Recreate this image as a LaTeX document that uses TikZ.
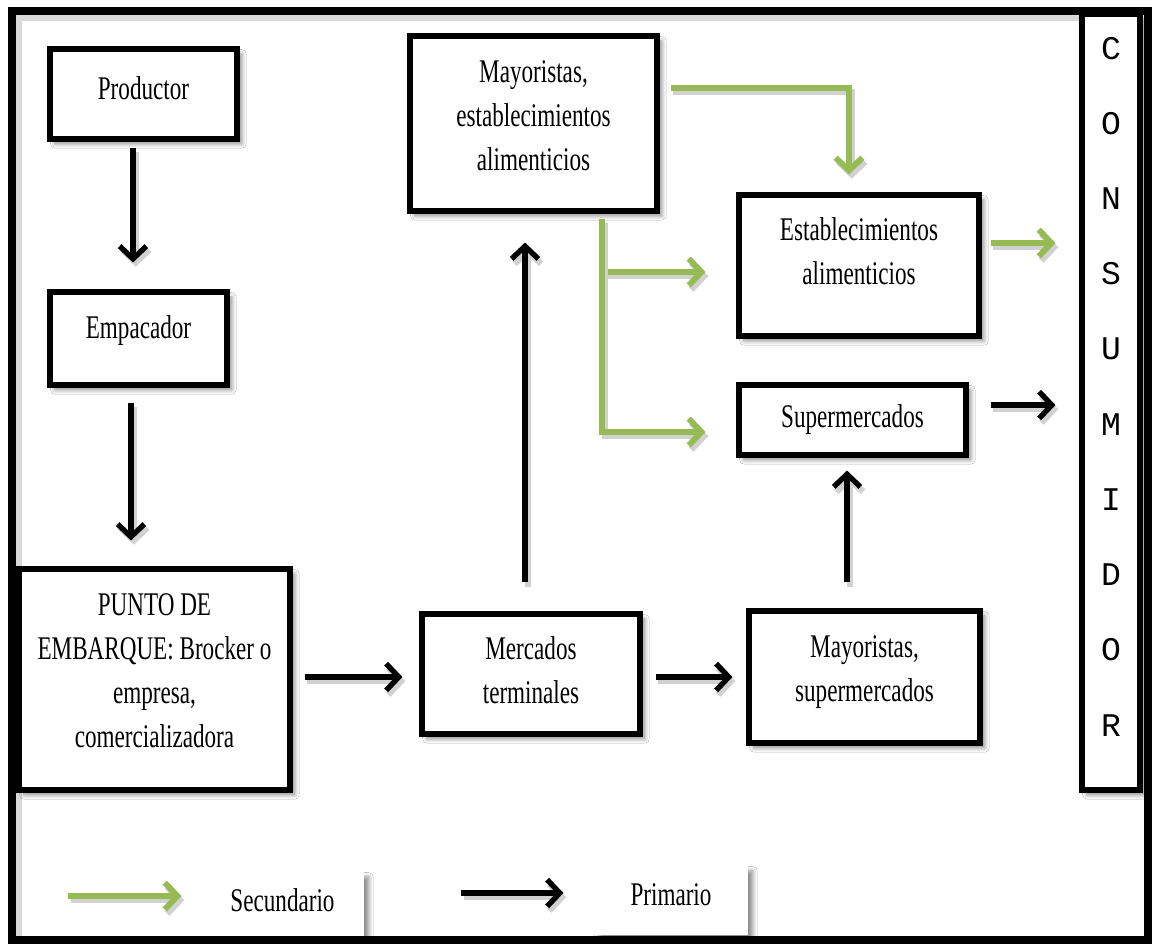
\documentclass[tikz,border=0pt]{standalone}
\usepackage{fontspec}
\setmainfont{Liberation Serif}[FakeStretch=0.7]
\newfontfamily\consfont{Liberation Mono}
\usetikzlibrary{arrows.meta,calc,shadows.blur}
\definecolor{secgreen}{RGB}{150,186,84}
\newdimen\px \px=0.025cm
\newcommand\bx[4]{\begin{minipage}[c][#2\px][c]{#1\px}\centering #4\par\vspace*{#3\px}\end{minipage}}
\tikzset{
  box/.style={draw=black, line width=3.6pt, fill=white, inner sep=0pt,
    font=\fontsize{23.5}{31.3}\selectfont,
    blur shadow={shadow xshift=3.5pt, shadow yshift=-3.5pt, shadow blur steps=8, shadow blur radius=3pt, shadow opacity=45}},
  legbox/.style={box, draw=none},
  parr/.style={line width=3.8pt, draw=black, -{Straight Barb[length=9pt,width=19pt]},
    preaction={draw=black!18, line width=4.5pt, transform canvas={shift={(2pt,-3pt)}}}},
  sarr/.style={parr, draw=secgreen, line width=4.2pt},
}
\begin{document}
\begin{tikzpicture}[x=0.025cm, y=-0.025cm]
\fill[white] (0,0) rectangle (1152,943);
\useasboundingbox (0,0) rectangle (1152,943);
% inner shadow of frame
\draw[black!15, line width=4pt] (19,936) -- (19,18) -- (1141,18);
% boxes
\node[box] (prod) at (143.5,94) {\bx{187}{90}{12}{Productor}};
\node[box] (emp) at (138.5,338.5) {\bx{177}{93}{15}{Empacador}};
\node[box] (punto) at (154.5,679.5) {\bx{271}{221}{17}{PUNTO DE\\EMBARQUE: Brocker o\\empresa,\\comercializadora}};
\node[box] (merc) at (531,674) {\bx{218}{120}{8}{Mercados\\terminales}};
\node[box] (maysup) at (864.5,677) {\bx{231}{132}{9.5}{Mayoristas,\\supermercados}};
\node[box] (mea) at (533.5,123.5) {\bx{247}{175}{15}{Mayoristas,\\establecimientos\\alimenticios}};
\node[box] (est) at (859,265.5) {\bx{240}{141}{29}{Establecimientos\\alimenticios}};
\node[box] (sup) at (852.5,420) {\bx{227}{70}{0}{Supermercados}};
\node[box, font=\consfont\fontsize{23.5}{53.5}\selectfont] (cons) at (1111,402) {\bx{58}{776}{31}{C\\O\\N\\S\\U\\M\\I\\D\\O\\R}};
% legend
\node[legbox] (sec) at (282.5,907) {\bx{163}{70}{14}{Secundario}};
\node[legbox] (prim) at (671,900.5) {\bx{154}{69}{12}{Primario}};
% primary connectors
\draw[parr] ($(prod.south)+(-10.5,6)$) -- ($(emp.north)+(-5.5,-27)$);
\draw[parr] ($(emp.south)+(-7.5,15)$) -- ($(punto.north)+(-23.5,-26)$);
\draw[parr] ($(punto.east)+(12,-2.5)$) -- ($(merc.west)+(-17,3)$);
\draw[parr] ($(merc.east)+(13,3)$) -- ($(maysup.west)+(-14,0)$);
\draw[parr] ($(merc.north)+(-6,-29)$) -- ($(mea.south)+(-8.5,29)$);
\draw[parr] ($(maysup.north)+(-17.5,-26)$) -- ($(sup.south)+(-5.5,13)$);
\draw[parr] ($(sup.east)+(22,-15)$) -- ($(cons.west)+(-24,3)$);
% secondary connectors
\draw[sarr] ($(est.east)+(9,-22.5)$) -- ($(cons.west)+(-24,-159)$);
\draw[sarr] ($(mea.east)+(11,-35.5)$) -| ($(est.north)+(-10,-18)$);
\draw[sarr] ($(mea.south)+(68.5,5)$) |- ($(est.west)+(-31,6.5)$);
\draw[sarr] ($(mea.south)+(68.5,5)$) |- ($(sup.west)+(-31,12)$);
% legend arrows
\draw[sarr] ($(sec.west)+(-130,-11)$) -- ($(sec.west)+(-17,-11)$);
\draw[parr] ($(prim.west)+(-130,-7.5)$) -- ($(prim.west)+(-28,-7.5)$);
% outer frame
\draw[line width=5.7pt] (12,11) rectangle (1148,940);
\end{tikzpicture}
\end{document}
